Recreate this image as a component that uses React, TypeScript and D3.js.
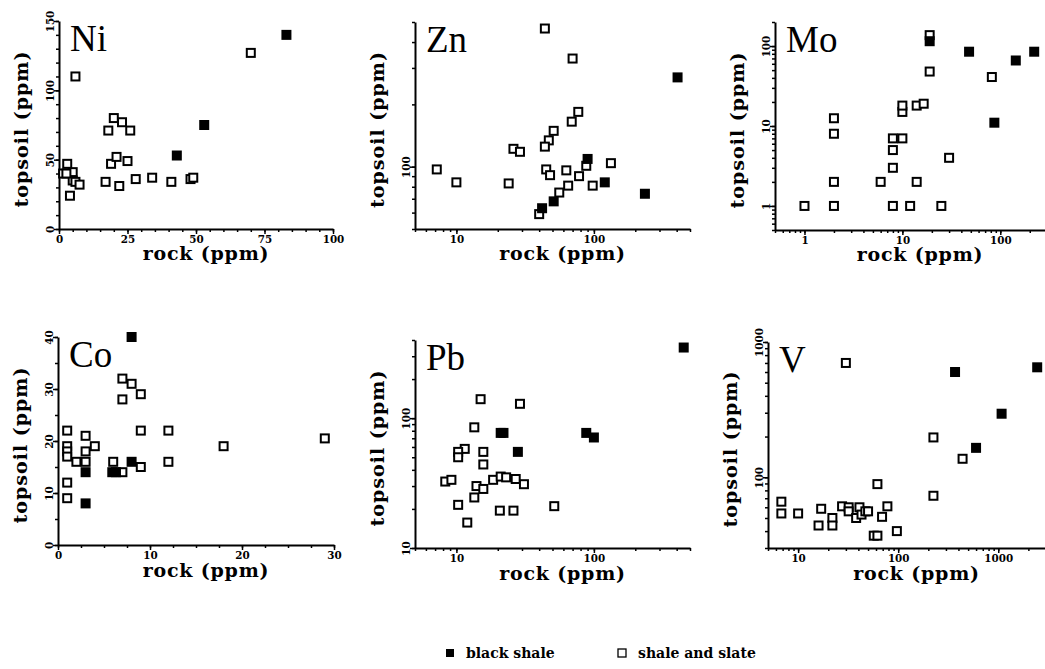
import React, { useRef, useEffect } from 'react';
import * as d3 from 'd3';

// rock vs topsoil values (ppm)
const niBlack = [[83, 140], [53, 75], [43, 53]];
const niShale = [
    [6, 110], [70, 127], [18, 71], [20, 80], [23, 77], [26, 71], [19, 47], [21, 52], [25, 49],
    [17, 34], [22, 31], [28, 36], [34, 37], [41, 34], [48, 36], [49, 37], [1.5, 40], [3, 47],
    [5, 41], [5, 35], [6, 34], [7.5, 32], [4, 24], [2.7, 40],
];
const znBlack = [[406, 270], [120, 84], [235, 74], [51, 68], [42, 63], [90, 109]];
const znShale = [
    [44, 465], [70, 333], [77, 184], [69, 165], [51, 149], [47, 134], [44, 125], [26, 122],
    [29, 118], [7.2, 97], [10, 84], [24, 83], [45, 97], [48, 91], [63, 96], [78, 90], [88, 101],
    [133, 104], [65, 81], [56, 75], [98, 81], [40, 59],
];
const moBlack = [[19, 115], [48, 85], [144, 66], [222, 85], [87, 11]];
const moShale = [
    [1, 1], [2, 1], [2, 2], [2, 8], [2, 12.5], [6, 2], [8, 1], [12, 1], [25, 1], [14, 2], [8, 3],
    [8, 5], [8, 7], [10, 7], [10, 15], [10, 18], [14, 18], [16.5, 19], [19, 48], [19, 137],
    [30, 4], [82, 41],
];
const coBlack = [[8, 40], [3, 8], [3, 14], [5.9, 14], [6.3, 14], [8, 16]];
const coShale = [
    [1, 22], [1, 19], [1, 18], [1, 17], [1, 12], [1, 9], [2, 16], [3, 16], [3, 21], [3, 18],
    [4, 19], [6, 16], [7, 14], [7, 32], [8, 31], [7, 28], [9, 29], [9, 22], [9, 15], [12, 22],
    [12, 16], [18, 19], [29, 20.5],
];
const pbBlack = [[450, 350], [21, 77], [22, 77], [88, 77], [100, 71], [28, 55]];
const pbShale = [
    [15, 140], [29, 129], [13.5, 85], [11.5, 58], [10.3, 55], [10.3, 50], [15.7, 55], [15.7, 44],
    [8.3, 32.5], [9.2, 33.5], [18.5, 33.5], [21, 35.5], [23, 35], [27, 34], [31, 31], [14, 30],
    [15.7, 28.5], [13.5, 24.5], [10.3, 21.5], [20.7, 19.4], [26, 19.4], [51.5, 21], [12, 15.7],
];
const vBlack = [[370, 600], [2450, 650], [1080, 295], [600, 165]];
const vShale = [
    [30, 700], [225, 197], [440, 137], [225, 73], [62, 89], [6.8, 66], [6.8, 54], [10, 54],
    [17, 58.5], [16, 44], [22, 50], [22, 44], [27.5, 61], [32, 60], [32, 56], [41, 60], [38, 50],
    [43, 53], [47, 56], [50, 56], [78, 61], [69, 51], [57, 37], [62, 37], [97, 40],
];

// tick labels
const niXTicks = [0, 25, 50, 75, 100];
const niYTicks = [0, 50, 100, 150];
const znXTicks = [10, 100];
const znYTicks = [100];
const moXTicks = [1, 10, 100];
const moYTicks = [1, 10, 100];
const coXTicks = [0, 10, 20, 30];
const coYTicks = [0, 10, 20, 30, 40];
const pbXTicks = [10, 100];
const pbYTicks = [10, 100];
const vXTicks = [10, 100, 1000];
const vYTicks = [100, 1000];

const legendItems = ['black shale', 'shale and slate'];

const SERIF = '"Liberation Serif", "Times New Roman", serif';
const BOLD = '"DejaVu Serif", serif';
const TICK = '"DejaVu Serif Condensed", "DejaVu Serif", serif';

const panels = [
    { name: 'Ni', black: niBlack, shale: niShale, xLog: false, yLog: false, xDomain: [0, 100], yDomain: [0, 150], xTicks: niXTicks, yTicks: niYTicks, xStep: 5, yStep: 10, left: 59, right: 333, top: 21, bottom: 229, row: 0 },
    { name: 'Zn', black: znBlack, shale: znShale, xLog: true, yLog: true, xDomain: [5, 500], yDomain: [50, 500], xTicks: znXTicks, yTicks: znYTicks, left: 415, right: 690, top: 22, bottom: 229, row: 0 },
    { name: 'Mo', black: moBlack, shale: moShale, xLog: true, yLog: true, xDomain: [0.5, 300], yDomain: [0.5, 200], xTicks: moXTicks, yTicks: moYTicks, left: 775, right: 1047, top: 22, bottom: 230, row: 0 },
    { name: 'Co', black: coBlack, shale: coShale, xLog: false, yLog: false, xDomain: [0, 30], yDomain: [0, 40], xTicks: coXTicks, yTicks: coYTicks, xStep: 2.5, yStep: 5, left: 58, right: 334, top: 337, bottom: 545, row: 1 },
    { name: 'Pb', black: pbBlack, shale: pbShale, xLog: true, yLog: true, xDomain: [5, 500], yDomain: [10, 400], xTicks: pbXTicks, yTicks: pbYTicks, left: 415, right: 690, top: 340, bottom: 548, row: 1 },
    { name: 'V', black: vBlack, shale: vShale, xLog: true, yLog: true, xDomain: [5, 3000], yDomain: [30, 1000], xTicks: vXTicks, yTicks: vYTicks, left: 768, right: 1046, top: 342, bottom: 548, row: 1 },
];

const minorTicks = (domain, isLog, step) => {
    if (!isLog) {
        return d3.range(domain[0], domain[1] + 1e-9, step);
    }
    const out = [];
    const lo = Math.floor(Math.log10(domain[0]));
    const hi = Math.ceil(Math.log10(domain[1]));
    for (let p = lo; p <= hi; p++) {
        for (let m = 1; m <= 9; m++) {
            const v = m * Math.pow(10, p);
            if (v >= domain[0] * 0.999 && v <= domain[1] * 1.001) out.push(v);
        }
    }
    return out;
};

const styleAxis = (g) => {
    g.attr('font-family', TICK).attr('font-size', 11.5).attr('font-weight', 'bold');
    g.select('.domain').attr('stroke', '#000').attr('stroke-width', 2);
    g.selectAll('.tick line').attr('stroke', '#000').attr('stroke-width', 1.5);
    g.selectAll('.tick text').attr('fill', '#000');
};

const drawPanel = (svg, p) => {
    const x = (p.xLog ? d3.scaleLog() : d3.scaleLinear()).domain(p.xDomain).range([p.left, p.right]);
    const y = (p.yLog ? d3.scaleLog() : d3.scaleLinear()).domain(p.yDomain).range([p.bottom, p.top]);
    const g = svg.append('g');

    // minor ticks first
    g.append('g')
        .attr('transform', `translate(0,${p.bottom})`)
        .call(d3.axisBottom(x).tickValues(minorTicks(p.xDomain, p.xLog, p.xStep)).tickSize(3).tickSizeOuter(0).tickFormat(() => ''))
        .call(styleAxis);
    g.append('g')
        .attr('transform', `translate(${p.left},0)`)
        .call(d3.axisLeft(y).tickValues(minorTicks(p.yDomain, p.yLog, p.yStep)).tickSize(3).tickSizeOuter(0).tickFormat(() => ''))
        .call(styleAxis);

    // labelled ticks
    g.append('g')
        .attr('transform', `translate(0,${p.bottom})`)
        .call(d3.axisBottom(x).tickValues(p.xTicks).tickSize(5).tickSizeOuter(0).tickFormat(d3.format('d')).tickPadding(1))
        .call(styleAxis)
        .call(a => a.select('.domain').remove());
    const ya = g.append('g')
        .attr('transform', `translate(${p.left},0)`)
        .call(d3.axisLeft(y).tickValues(p.yTicks).tickSize(5).tickSizeOuter(0).tickFormat(d3.format('d')))
        .call(styleAxis);
    ya.select('.domain').remove();
    ya.selectAll('.tick text')
        .attr('transform', 'rotate(-90)')
        .attr('x', 0)
        .attr('y', -5)
        .attr('dy', 0)
        .attr('text-anchor', 'middle');

    // axis titles
    g.append('text')
        .attr('transform', `translate(${p.left - 31},${(p.top + p.bottom) / 2 + 4}) rotate(-90)`)
        .attr('text-anchor', 'middle')
        .attr('font-family', BOLD)
        .attr('font-weight', 'bold')
        .attr('font-size', 19)
        .attr('letter-spacing', 1)
        .text('topsoil (ppm)');
    g.append('text')
        .attr('x', (p.left + Math.min(p.right, 1045)) / 2 + 10)
        .attr('y', p.bottom + (p.row === 0 ? 31 : 32))
        .attr('text-anchor', 'middle')
        .attr('font-family', BOLD)
        .attr('font-weight', 'bold')
        .attr('font-size', 19)
        .attr('letter-spacing', 0.8)
        .text('rock (ppm)');

    // element name
    g.append('text')
        .attr('x', p.left + 11)
        .attr('y', p.top + 30)
        .attr('font-family', SERIF)
        .attr('font-size', 37)
        .text(p.name);

    const s = 8;
    g.append('g').selectAll('rect')
        .data(p.shale)
        .join('rect')
        .attr('x', d => x(d[0]) - s / 2)
        .attr('y', d => y(d[1]) - s / 2)
        .attr('width', s)
        .attr('height', s)
        .attr('fill', '#fff')
        .attr('stroke', '#000')
        .attr('stroke-width', 2);
    g.append('g').selectAll('rect')
        .data(p.black)
        .join('rect')
        .attr('x', d => x(d[0]) - (s + 2) / 2)
        .attr('y', d => y(d[1]) - (s + 2) / 2)
        .attr('width', s + 2)
        .attr('height', s + 2)
        .attr('fill', '#000');
};

const App = () => {
    const svgRef = useRef(null);

    useEffect(() => {
        if (!svgRef.current) {
            return;
        }
        const svg = d3.select(svgRef.current);
        svg.selectAll('*').remove();

        panels.forEach(p => drawPanel(svg, p));

        // legend
        const legend = svg.append('g').attr('font-family', BOLD).attr('font-weight', 'bold').attr('font-size', 14);
        const lx = [450, 622];
        legendItems.forEach((label, i) => {
            legend.append('rect')
                .attr('x', lx[i] - 4)
                .attr('y', 649)
                .attr('width', 8)
                .attr('height', 8)
                .attr('fill', i === 0 ? '#000' : '#fff')
                .attr('stroke', '#000')
                .attr('stroke-width', i === 0 ? 0 : 1.3);
            legend.append('text')
                .attr('x', lx[i] + 16)
                .attr('y', 658)
                .text(label);
        });
    }, []);

    return (
        <svg
            ref={svgRef}
            width={1045}
            height={669}
            style={{ position: 'absolute', left: 0, top: 0, background: '#fff', overflow: 'hidden' }}
        ></svg>
    );
};

export default App;
